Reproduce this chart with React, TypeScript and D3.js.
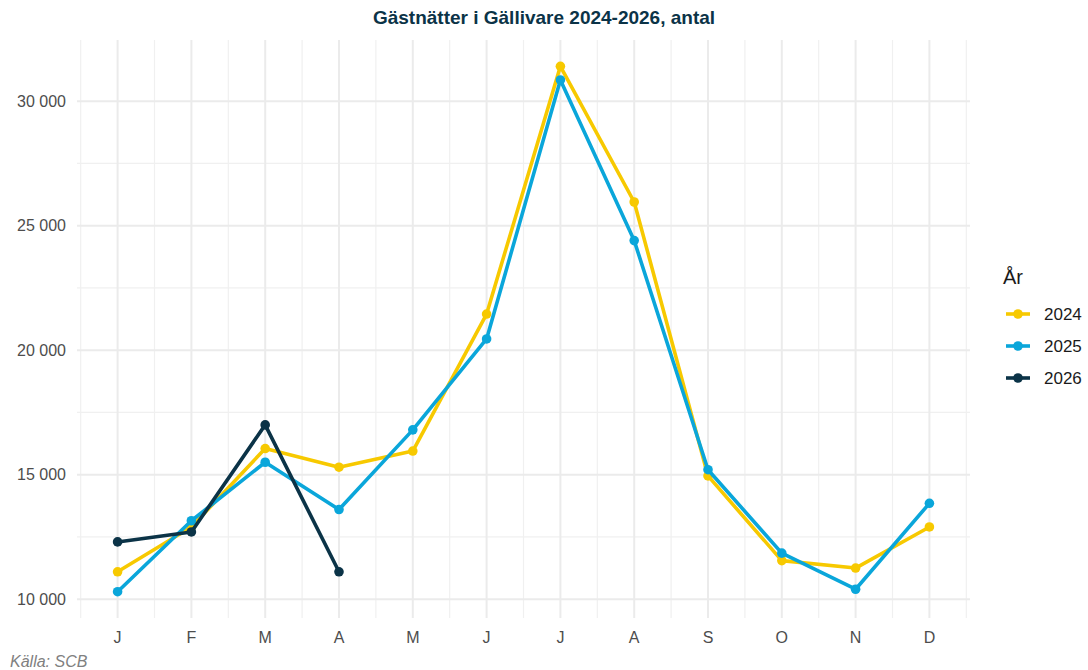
import React, { useEffect, useRef } from 'react';
import * as d3 from 'd3';

const months = ['J', 'F', 'M', 'A', 'M', 'J', 'J', 'A', 'S', 'O', 'N', 'D'];
const years = ['2024', '2025', '2026'];
const colors = ['#f7c900', '#0aa6da', '#0b3347'];

const values2024 = [11100, 12900, 16050, 15300, 15950, 21450, 31400, 25950, 14950, 11550, 11250, 12900];
const values2025 = [10300, 13150, 15500, 13600, 16800, 20450, 30850, 24400, 15200, 11850, 10400, 13850];
const values2026 = [12300, 12700, 17000, 11100];

const yTicks = [10000, 15000, 20000, 25000, 30000];

export default function App() {
  const ref = useRef<SVGSVGElement>(null);

  useEffect(() => {
    const svg = d3.select(ref.current);
    svg.selectAll('*').remove();
    const margin = { top: 40, right: 118, bottom: 52, left: 77 };
    const W = 1088, H = 670;
    const width = W - margin.left - margin.right;
    const height = H - margin.top - margin.bottom;

    const series = [values2024, values2025, values2026];
    const all = series.flat();
    const lo = d3.min(all)!, hi = d3.max(all)!;
    const pad = (hi - lo) * 0.05;

    const x = d3.scaleLinear().domain([0.45, 12.55]).range([0, width]);
    const y = d3.scaleLinear().domain([lo - pad, hi + pad]).range([height, 0]);

    const g = svg.append('g').attr('transform', `translate(${margin.left},${margin.top})`);

    // minor grid
    const minorY = d3.range(7500, 35000, 5000).filter(v => v >= y.domain()[0] && v <= y.domain()[1]);
    g.selectAll('.gy-minor').data(minorY).enter().append('line')
      .attr('x1', 0).attr('x2', width)
      .attr('y1', d => y(d)).attr('y2', d => y(d))
      .attr('stroke', '#f0f0f0').attr('stroke-width', 1.2);
    g.selectAll('.gx-minor').data(d3.range(0.5, 13, 1)).enter().append('line')
      .attr('y1', 0).attr('y2', height)
      .attr('x1', d => x(d)).attr('x2', d => x(d))
      .attr('stroke', '#f0f0f0').attr('stroke-width', 1.2);
    // major grid
    g.selectAll('.gy').data(yTicks).enter().append('line')
      .attr('x1', 0).attr('x2', width)
      .attr('y1', d => y(d)).attr('y2', d => y(d))
      .attr('stroke', '#ebebeb').attr('stroke-width', 2);
    g.selectAll('.gx').data(months).enter().append('line')
      .attr('y1', 0).attr('y2', height)
      .attr('x1', (d, i) => x(i + 1)).attr('x2', (d, i) => x(i + 1))
      .attr('stroke', '#ebebeb').attr('stroke-width', 2);

    // axis labels
    const fmt = (v: number) => d3.format(',')(v).replace(',', ' ');
    g.selectAll('.yl').data(yTicks).enter().append('text')
      .attr('x', -11).attr('y', d => y(d)).attr('dy', '0.35em')
      .attr('text-anchor', 'end').attr('font-size', 16).attr('fill', '#4d4d4d')
      .text(d => fmt(d));
    g.selectAll('.xl').data(months).enter().append('text')
      .attr('x', (d, i) => x(i + 1)).attr('y', height + 25)
      .attr('text-anchor', 'middle').attr('font-size', 16).attr('fill', '#4d4d4d')
      .text(d => d);

    const line = d3.line<number>().x((d, i) => x(i + 1)).y(d => y(d));
    series.forEach((vals, si) => {
      g.append('path').datum(vals)
        .attr('d', line).attr('fill', 'none')
        .attr('stroke', colors[si]).attr('stroke-width', 3.6)
        .attr('stroke-linejoin', 'round');
      g.selectAll(`.pt${si}`).data(vals).enter().append('circle')
        .attr('cx', (d, i) => x(i + 1)).attr('cy', d => y(d))
        .attr('r', 4.8).attr('fill', colors[si]);
    });

    // title
    svg.append('text').attr('x', W / 2).attr('y', 24)
      .attr('text-anchor', 'middle').attr('font-size', 19).attr('font-weight', 'bold')
      .attr('fill', '#0b3347').text('Gästnätter i Gällivare 2024-2026, antal');

    // legend
    const lg = svg.append('g').attr('transform', 'translate(1003,0)');
    lg.append('text').attr('x', 0).attr('y', 284).attr('font-size', 20).attr('fill', '#1a1a1a').text('År');
    years.forEach((yr, i) => {
      const cy = 314 + i * 32;
      lg.append('line').attr('x1', 3).attr('x2', 27).attr('y1', cy).attr('y2', cy)
        .attr('stroke', colors[i]).attr('stroke-width', 3.6);
      lg.append('circle').attr('cx', 15).attr('cy', cy).attr('r', 4.8).attr('fill', colors[i]);
      lg.append('text').attr('x', 41).attr('y', cy).attr('dy', '0.35em')
        .attr('font-size', 17).attr('fill', '#1a1a1a').text(yr);
    });

    // caption
    svg.append('text').attr('x', 10).attr('y', 667).attr('font-size', 16)
      .attr('font-style', 'italic').attr('fill', '#808080').text('Källa: SCB');
  }, []);

  return (
    <svg ref={ref} width={1088} height={670}
      style={{ position: 'absolute', left: 0, top: 0, fontFamily: 'Liberation Sans, Arial, sans-serif', background: '#fff' }} />
  );
}
